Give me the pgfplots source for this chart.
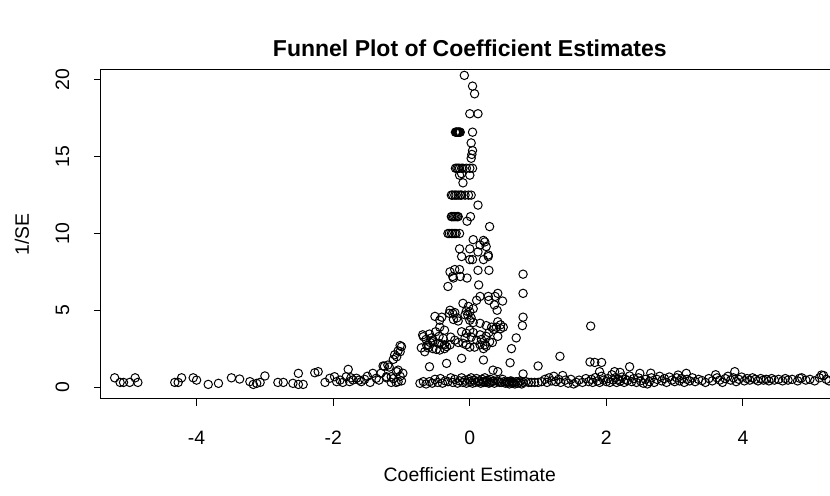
\documentclass[border=0pt]{standalone}
\usepackage{pgfplots}
\pgfplotsset{compat=1.18}
\usepackage{fontspec}
\setmainfont{Liberation Sans}

\begin{document}
\begin{tikzpicture}
\begin{axis}[
  at={(0,0)}, anchor=south west,
  scale only axis, width=368.8pt, height=164.5pt,
  xmin=-5.4, xmax=5.4, ymin=-0.78, ymax=20.65,
  xtick={-4,-2,0,2,4}, ytick={0,5,10,15,20},
  tick pos=left, tick align=outside, major tick length=3.5pt,
  tick style={black, line width=0.5pt},
  axis line style={line width=0.5pt},
  /pgf/number format/assume math mode=true,
  ticklabel style={font=\fontsize{9.7}{11}\selectfont},
  xticklabel style={yshift=-8.8pt},
  yticklabel style={rotate=90, anchor=south, yshift=8.8pt},
  title={Funnel Plot of Coefficient Estimates},
  title style={font=\fontsize{11.5}{13}\selectfont\bfseries, at={(0.5,1)}, anchor=center, yshift=5pt},
  xlabel={Coefficient Estimate},
  xlabel style={font=\fontsize{9.7}{11}\selectfont, at={(0.5,0)}, anchor=center, yshift=-38pt},
  ylabel={1/SE},
  ylabel style={font=\fontsize{9.7}{11}\selectfont, at={(0,0.5)}, anchor=center, yshift=39.5pt},
]
\addplot[only marks, mark=o, mark size=2.1pt, mark options={line width=0.5pt, black}] table {
x y
-5.20 0.60
-5.12 0.30
-5.07 0.30
-4.98 0.30
-4.90 0.60
-4.86 0.30
-4.32 0.30
-4.27 0.30
-4.22 0.60
-4.05 0.60
-4.00 0.45
-3.83 0.17
-3.68 0.24
-3.49 0.60
-3.37 0.52
-3.22 0.35
-3.17 0.17
-3.12 0.24
-3.07 0.30
-3.00 0.72
-2.81 0.30
-2.73 0.30
-2.59 0.24
-2.51 0.89
-2.44 0.17
-2.51 0.17
-2.27 0.93
-2.22 1.00
-2.12 0.30
-2.05 0.57
-1.98 0.67
-1.95 0.35
-1.90 0.45
-1.86 0.30
-1.81 0.67
-1.78 1.15
-1.76 0.35
-1.74 0.60
-1.71 0.46
-1.66 0.57
-1.62 0.45
-1.59 0.35
-1.54 0.50
-1.50 0.70
-1.46 0.30
-1.42 0.89
-1.37 0.57
-1.33 0.45
-1.30 0.90
-1.27 1.37
-1.25 1.35
-1.22 0.67
-1.22 0.60
-1.20 1.43
-1.18 1.30
-1.15 0.67
-1.15 0.30
-1.12 1.80
-1.12 0.55
-1.10 2.10
-1.08 0.30
-1.07 1.97
-1.07 1.00
-1.05 2.35
-1.05 1.10
-1.05 0.35
-1.02 2.30
-1.02 2.70
-1.02 0.70
-1.00 2.63
-1.00 0.40
-0.98 0.90
-0.71 2.55
-0.66 2.30
-0.61 2.55
-0.54 2.50
-0.37 2.50
-0.69 3.40
-0.64 3.10
-0.59 3.45
-0.56 3.20
-0.54 2.95
-0.46 2.85
-0.41 2.75
-0.37 2.75
-0.29 2.75
-0.68 3.28
-0.61 2.74
-0.54 3.06
-0.39 3.17
-0.44 2.41
-0.34 2.63
-0.50 3.60
-0.45 3.30
-0.58 2.90
-0.63 2.70
-0.49 2.45
-0.28 3.25
-0.59 1.32
-0.34 1.54
-0.22 3.05
-0.17 2.90
-0.10 2.85
-0.05 2.75
0.15 3.40
0.17 3.10
0.24 3.30
0.22 2.75
0.15 2.75
0.29 2.95
0.10 3.05
0.28 3.55
0.33 2.90
0.41 3.30
0.68 3.20
0.00 2.60
0.07 2.60
0.20 2.50
0.24 2.65
0.61 2.50
-0.12 1.87
0.20 1.76
0.59 1.58
1.32 2.00
0.34 1.10
0.41 1.00
1.00 1.37
0.78 0.85
-0.44 3.90
-0.37 3.70
-0.12 3.60
0.00 3.70
0.05 3.55
-0.05 3.50
0.02 3.25
-0.07 3.20
0.15 4.15
0.24 4.00
0.32 3.90
0.39 3.90
0.45 3.80
0.49 3.90
0.35 3.75
0.41 4.25
0.45 4.05
0.00 4.35
0.05 4.20
0.78 4.55
0.77 4.00
-0.19 4.50
-0.17 4.30
-0.24 4.40
0.00 4.90
0.02 4.50
-0.07 4.70
-0.03 4.70
-0.51 4.60
-0.41 4.55
-0.44 4.35
-0.29 5.00
-0.25 4.80
-0.30 4.80
-0.22 4.85
0.40 5.00
0.05 5.10
-0.05 4.95
-0.10 5.45
-0.02 5.25
0.28 5.65
0.36 5.35
0.41 6.10
0.27 5.90
0.15 5.90
0.10 5.65
0.37 5.90
0.48 5.60
0.78 6.10
-0.32 6.55
0.13 6.65
-0.24 7.10
-0.04 7.10
0.78 7.35
-0.29 7.50
-0.22 7.65
-0.15 7.65
0.12 7.60
0.28 7.60
-0.25 7.20
-0.14 7.20
-0.12 8.50
0.00 8.30
0.04 8.30
0.20 8.30
0.27 8.50
-0.15 9.00
0.00 9.00
0.12 8.80
0.27 8.60
0.05 9.60
0.22 9.45
0.15 9.25
0.24 9.15
0.20 9.55
-0.32 10.00
-0.30 10.00
-0.27 10.00
-0.25 10.00
-0.22 10.00
-0.20 10.00
-0.15 10.00
0.29 10.45
-0.04 10.80
0.01 11.10
-0.27 11.10
-0.26 11.10
-0.24 11.10
-0.22 11.10
-0.20 11.10
-0.18 11.10
-0.17 11.10
0.12 11.85
-0.27 12.50
-0.25 12.50
-0.22 12.50
-0.20 12.50
-0.17 12.50
-0.14 12.50
-0.12 12.50
-0.07 12.50
-0.02 12.50
0.02 12.50
-0.10 13.30
-0.15 13.80
0.00 13.80
-0.12 13.90
-0.21 14.25
-0.19 14.25
-0.17 14.25
-0.15 14.25
-0.12 14.25
-0.10 14.25
-0.05 14.25
0.00 14.25
0.04 14.25
0.02 14.90
0.03 15.15
0.04 15.40
0.02 15.90
-0.21 16.60
-0.20 16.60
-0.19 16.60
-0.18 16.60
-0.17 16.60
-0.16 16.60
-0.15 16.60
-0.14 16.60
0.04 16.60
0.00 17.80
0.12 17.80
0.07 19.10
0.04 19.60
-0.08 20.30
-0.73 0.24
-0.68 0.35
-0.64 0.20
-0.59 0.35
-0.55 0.25
-0.51 0.50
-0.47 0.30
-0.43 0.55
-0.40 0.25
-0.36 0.40
-0.32 0.35
-0.28 0.60
-0.25 0.30
-0.22 0.50
-0.18 0.25
-0.15 0.40
-0.12 0.60
-0.10 0.30
-0.07 0.45
-0.05 0.25
-0.02 0.50
0.00 0.35
0.02 0.60
0.04 0.25
0.06 0.45
0.08 0.30
0.10 0.55
0.12 0.35
0.14 0.40
0.16 0.25
0.18 0.50
0.20 0.35
0.20 0.30
0.22 0.60
0.24 0.30
0.25 0.35
0.26 0.45
0.28 0.25
0.30 0.50
0.30 0.30
0.33 0.35
0.35 0.40
0.36 0.25
0.40 0.40
0.42 0.35
0.44 0.30
0.46 0.30
0.48 0.50
0.50 0.35
0.52 0.25
0.54 0.30
0.55 0.35
0.58 0.20
0.58 0.35
0.60 0.40
0.62 0.25
0.62 0.35
0.64 0.30
0.66 0.20
0.68 0.35
0.70 0.25
0.72 0.30
0.74 0.40
0.76 0.20
0.78 0.30
0.82 0.35
0.86 0.30
0.90 0.30
0.95 0.30
1.00 0.30
1.05 0.35
1.10 0.50
1.13 0.30
1.16 0.60
1.20 0.40
1.23 0.70
1.26 0.35
1.30 0.50
1.33 0.30
1.36 0.75
1.40 0.45
1.44 0.25
1.48 0.50
1.52 0.20
1.56 0.30
1.77 3.97
1.76 1.63
1.83 1.60
1.93 1.60
1.90 1.00
2.12 1.00
2.34 1.32
2.49 0.89
2.20 0.95
2.65 0.90
3.05 0.78
3.17 0.89
3.60 0.80
3.88 1.00
4.83 0.57
5.15 0.78
1.60 0.45
1.65 0.30
1.70 0.55
1.74 0.35
1.78 0.50
1.80 0.30
1.84 0.62
1.87 0.40
1.90 0.30
1.93 0.70
1.96 0.45
2.00 0.35
2.02 0.55
2.05 0.30
2.08 0.80
2.10 0.45
2.13 0.60
2.15 0.30
2.18 0.50
2.20 0.38
2.23 0.65
2.26 0.30
2.28 0.50
2.31 0.42
2.34 0.72
2.37 0.35
2.40 0.55
2.44 0.30
2.47 0.60
2.50 0.40
2.54 0.25
2.57 0.50
2.60 0.20
2.63 0.35
2.66 0.60
2.70 0.30
2.74 0.50
2.78 0.70
2.81 0.40
2.85 0.55
2.88 0.30
2.92 0.65
2.96 0.45
3.00 0.35
3.03 0.60
3.07 0.40
3.10 0.55
3.14 0.30
3.18 0.50
3.22 0.40
3.26 0.60
3.30 0.35
3.35 0.50
3.40 0.42
3.45 0.30
3.50 0.55
3.55 0.40
3.62 0.60
3.66 0.45
3.70 0.30
3.74 0.55
3.78 0.70
3.82 0.45
3.86 0.60
3.90 0.35
3.94 0.50
3.98 0.65
4.02 0.40
4.06 0.55
4.10 0.45
4.14 0.60
4.18 0.50
4.22 0.40
4.26 0.55
4.30 0.45
4.34 0.50
4.38 0.40
4.42 0.55
4.46 0.45
4.52 0.50
4.58 0.40
4.62 0.55
4.66 0.45
4.72 0.50
4.80 0.40
4.86 0.60
4.92 0.45
4.98 0.50
5.05 0.40
5.12 0.60
5.18 0.75
5.22 0.50
5.26 0.40
};
\end{axis}
\pgfresetboundingbox
\path[use as bounding box] (-50.5pt,-48.5pt) rectangle (364.5pt,199.5pt);
\end{tikzpicture}
\end{document}
